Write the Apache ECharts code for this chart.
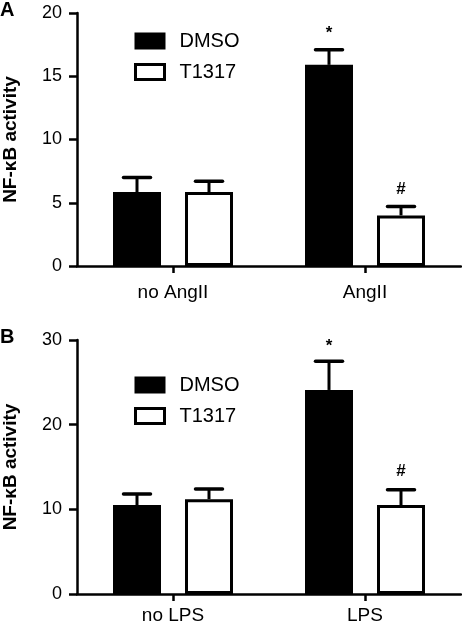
<!DOCTYPE html>
<html>
<head>
<meta charset="utf-8">
<script src="https://cdn.jsdelivr.net/npm/echarts@6/dist/echarts.min.js"></script>
<style>
html,body{margin:0;padding:0;background:#fff;}
#chart{width:462px;height:626px;}
</style>
</head>
<body>
<div id="chart"></div>
<script>
// ---- Data ----
const seriesNames = ['DMSO', 'T1317'];

const categoriesA = ['no AngII', 'AngII'];
const dmsoA = [5.85, 15.9];
const dmsoErrA = [1.15, 1.2];
const dmsoMarkA = ['', '*'];
const t1317A = [5.85, 4.0];
const t1317ErrA = [0.85, 0.7];
const t1317MarkA = ['', '#'];
const yTicksA = [0, 5, 10, 15, 20];

const categoriesB = ['no LPS', 'LPS'];
const dmsoB = [10.5, 24.1];
const dmsoErrB = [1.3, 3.4];
const dmsoMarkB = ['', '*'];
const t1317B = [11.2, 10.5];
const t1317ErrB = [1.2, 1.8];
const t1317MarkB = ['', '#'];
const yTicksB = [0, 10, 20, 30];

// ---- Style ----
const FONT = '"Liberation Sans", Arial, sans-serif';
const BAR_W = 48;
const GAP_RATIO = 0.5;
const OFFSET = BAR_W * (1 + GAP_RATIO) / 2;
const CAP_HALF = 13.5;

const chart = echarts.init(document.getElementById('chart'), null, {renderer: 'canvas'});

function errSeries(name, axisIdx, values, errs, marks, sign, markGap) {
  return {
    type: 'custom',
    name: name + '_err',
    xAxisIndex: axisIdx,
    yAxisIndex: axisIdx,
    z: 10,
    silent: true,
    data: values.map((v, i) => [i, v, errs[i]]),
    renderItem: function (params, api) {
      const c = api.value(0), v = api.value(1), e = api.value(2);
      const base = api.coord([c, v]);
      const top = api.coord([c, v + e]);
      const x = base[0] + sign * OFFSET;
      const children = [
        {type: 'line', shape: {x1: x, y1: base[1], x2: x, y2: top[1]},
         style: {stroke: '#000', lineWidth: 3}},
        {type: 'line', shape: {x1: x - CAP_HALF, y1: top[1], x2: x + CAP_HALF, y2: top[1]},
         style: {stroke: '#000', lineWidth: 3.5, lineCap: 'round'}}
      ];
      const m = marks[params.dataIndex];
      if (m) {
        children.push({type: 'text', style: {text: m, x: x, y: top[1] - markGap,
          textAlign: 'center', textVerticalAlign: 'middle',
          font: 'bold 17px ' + FONT, fill: '#000'}});
      }
      return {type: 'group', children: children};
    }
  };
}

function barSeries(name, axisIdx, values, white) {
  return {
    type: 'bar',
    name: name,
    xAxisIndex: axisIdx,
    yAxisIndex: axisIdx,
    barWidth: BAR_W,
    barGap: (GAP_RATIO * 100) + '%',
    data: values,
    itemStyle: white ? {color: '#fff', borderColor: '#000', borderWidth: 3}
                     : {color: '#000', borderColor: '#000', borderWidth: 3},
    emphasis: {disabled: true},
    silent: true
  };
}

function yAxis(idx, ticks, nameGap) {
  return {
    type: 'value',
    gridIndex: idx,
    min: ticks[0],
    max: ticks[ticks.length - 1],
    interval: ticks[1] - ticks[0],
    name: 'NF-\u03baB activity',
    nameLocation: 'middle',
    nameGap: nameGap,
    nameTextStyle: {fontFamily: FONT, fontWeight: 'bold', fontSize: 19, color: '#000'},
    axisLine: {show: true, lineStyle: {color: '#000', width: 2.5}},
    axisTick: {show: true, length: 8, lineStyle: {color: '#000', width: 2.5}},
    axisLabel: {fontFamily: FONT, fontSize: 18, color: '#000', margin: 15},
    splitLine: {show: false}
  };
}

function xAxis(idx, cats, margin) {
  return {
    type: 'category',
    gridIndex: idx,
    data: cats,
    axisLine: {show: true, lineStyle: {color: '#000', width: 2.5}},
    axisTick: {show: true, alignWithLabel: true, length: 7, lineStyle: {color: '#000', width: 2.5}},
    axisLabel: {fontFamily: FONT, fontSize: 19, color: '#000', margin: margin}
  };
}

function legend(top) {
  return {
    left: 134,
    top: top,
    padding: 0,
    orient: 'vertical',
    itemWidth: 29,
    itemHeight: 15,
    itemGap: 11,
    selectedMode: false,
    textStyle: {fontFamily: FONT, fontSize: 20, color: '#000', padding: [0, 0, 0, 10]},
    data: [
      {name: seriesNames[0], icon: 'rect', itemStyle: {color: '#000', borderColor: '#000', borderWidth: 2}},
      {name: seriesNames[1], icon: 'rect', itemStyle: {color: '#fff', borderColor: '#000', borderWidth: 3}}
    ]
  };
}

const option = {
  animation: false,
  backgroundColor: '#fff',
  grid: [
    {left: 77, right: 1, top: 13, height: 253, containLabel: false, outerBoundsMode: 'none'},
    {left: 77, right: 1, top: 340, height: 254, containLabel: false, outerBoundsMode: 'none'}
  ],
  legend: [legend(31), legend(375)],
  xAxis: [xAxis(0, categoriesA, 17), xAxis(1, categoriesB, 12)],
  yAxis: [yAxis(0, yTicksA, 57), yAxis(1, yTicksB, 57)],
  graphic: [
    {type: 'text', left: 0, top: 0, style: {text: 'A', font: 'bold 20px ' + FONT, fill: '#000'}},
    {type: 'text', left: 0, top: 327, style: {text: 'B', font: 'bold 20px ' + FONT, fill: '#000'}}
  ],
  series: [
    barSeries(seriesNames[0], 0, dmsoA, false),
    barSeries(seriesNames[1], 0, t1317A, true),
    errSeries(seriesNames[0], 0, dmsoA, dmsoErrA, dmsoMarkA, -1, 16),
    errSeries(seriesNames[1], 0, t1317A, t1317ErrA, t1317MarkA, 1, 17),
    barSeries(seriesNames[0], 1, dmsoB, false),
    barSeries(seriesNames[1], 1, t1317B, true),
    errSeries(seriesNames[0], 1, dmsoB, dmsoErrB, dmsoMarkB, -1, 15),
    errSeries(seriesNames[1], 1, t1317B, t1317ErrB, t1317MarkB, 1, 19)
  ]
};
chart.setOption(option);
</script>
</body>
</html>
